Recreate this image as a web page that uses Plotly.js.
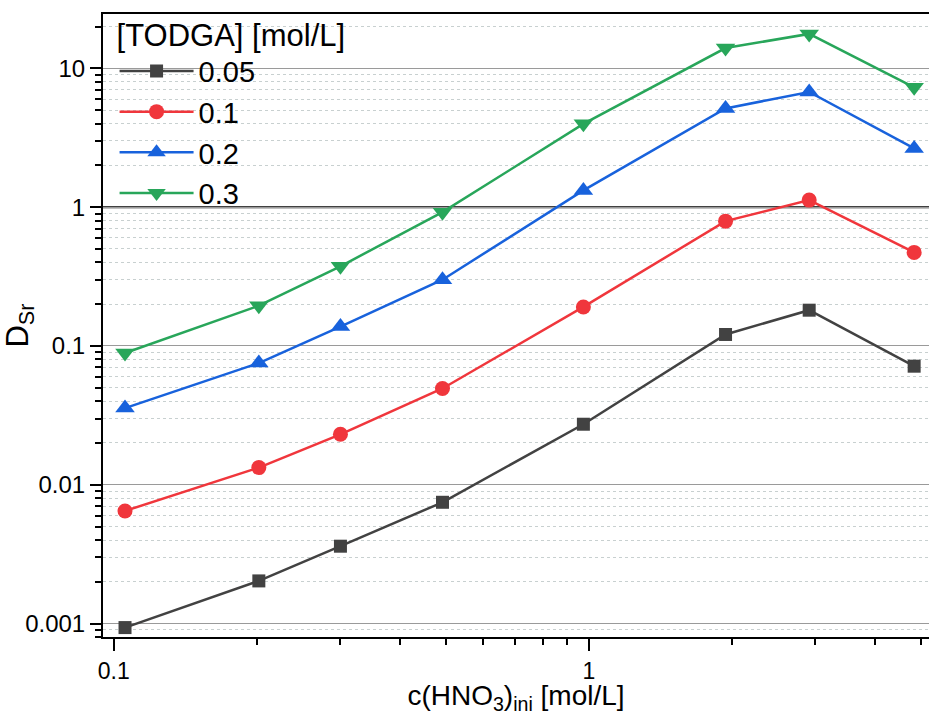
<!DOCTYPE html>
<html>
<head>
<meta charset="utf-8">
<script src="https://cdn.plot.ly/plotly-3.0.1.min.js"></script>
<style>html,body{margin:0;padding:0;background:#fff;}#chart{width:929px;height:715px;}</style>
</head>
<body>
<div id="chart"></div>
<script>
// HNO3 initial concentration [mol/L]
const hno3 = [0.1056, 0.202, 0.3, 0.492, 0.974, 1.94, 2.91, 4.84];
// Series names ([TODGA] mol/L)
const seriesNames = ["0.05", "0.1", "0.2", "0.3"];
// D_Sr values
const dSr_005 = [0.000936, 0.00203, 0.00361, 0.00748, 0.0273, 0.121, 0.181, 0.0715];
const dSr_01  = [0.00648, 0.0133, 0.0231, 0.0494, 0.191, 0.793, 1.124, 0.472];
const dSr_02  = [0.0357, 0.0753, 0.138, 0.300, 1.32, 5.14, 6.76, 2.65];
const dSr_03  = [0.089, 0.195, 0.375, 0.92, 3.98, 14.0, 17.7, 7.3];
// Tick labels
const yTickVals = [0.001, 0.01, 0.1, 1, 10];
const yTickText = ["0.001", "0.01", "0.1", "1", "10"];
const xTickVals = [0.1, 1];
const xTickText = ["0.1", "1"];

const FONT = "Arial, 'Liberation Sans', sans-serif";
const colors = ["#424242", "#f0363c", "#1862dc", "#28a65a"];
const symbols = ["square", "circle", "triangle-up", "triangle-down"];
const sizes = [13, 15, 17, 17];
const ys = [dSr_005, dSr_01, dSr_02, dSr_03];

const traces = ys.map((y, i) => ({
  x: hno3, y: y, name: seriesNames[i], type: "scatter", mode: "lines+markers",
  line: {color: colors[i], width: 2.5},
  marker: {symbol: symbols[i], size: sizes[i], color: colors[i], line: {width: 0}}
}));

const layout = {
  width: 929, height: 715,
  margin: {l: 103, r: 0, t: 14, b: 78},
  paper_bgcolor: "#fff", plot_bgcolor: "#fff",
  font: {family: FONT, color: "#000"},
  showlegend: true,
  legend: {
    x: 0.014, y: 1.014, xanchor: "left", yanchor: "top",
    bgcolor: "rgba(0,0,0,0)", borderwidth: 0,
    font: {size: 29, family: FONT},
    title: {text: "[TODGA] [mol/L]", font: {size: 31, family: FONT}},
    tracegroupgap: 0, itemwidth: 74
  },
  xaxis: {
    type: "log", range: [-1.0227, 0.7161],
    tickvals: xTickVals, ticktext: xTickText,
    ticks: "outside", ticklen: 12, tickwidth: 2, tickcolor: "#000",
    showline: true, linecolor: "#000", linewidth: 2, mirror: true,
    showgrid: false, zeroline: false,
    tickfont: {size: 23, family: FONT},
    minor: {dtick: "D1", ticks: "outside", ticklen: 6, tickwidth: 2, tickcolor: "#000", showgrid: false},
    title: {text: "c(HNO<sub>3</sub>)<sub>ini</sub> [mol/L]", font: {size: 28, family: FONT}, standoff: 2}
  },
  yaxis: {
    type: "log", range: [-3.0966, 1.3914],
    tickvals: yTickVals, ticktext: yTickText,
    ticks: "outside", ticklen: 11, tickwidth: 2, tickcolor: "#000",
    showline: true, linecolor: "#000", linewidth: 2,
    showgrid: true, gridcolor: "#9a9a9a", gridwidth: 1, zeroline: false,
    tickfont: {size: 24, family: FONT},
    minor: {dtick: "D1", ticks: "outside", ticklen: 6, tickwidth: 2, tickcolor: "#000",
            showgrid: true, gridcolor: "#c8d0d0", griddash: "dot", gridwidth: 1},
    title: {text: "D<sub>Sr</sub>", font: {size: 31, family: FONT}, standoff: 4}
  },
  shapes: [{
    type: "line", xref: "paper", x0: 0, x1: 1, yref: "y", y0: 1, y1: 1,
    line: {color: "#000", width: 2}, layer: "below"
  }]
};

Plotly.newPlot("chart", traces, layout, {displayModeBar: false, staticPlot: true});
</script>
</body>
</html>
